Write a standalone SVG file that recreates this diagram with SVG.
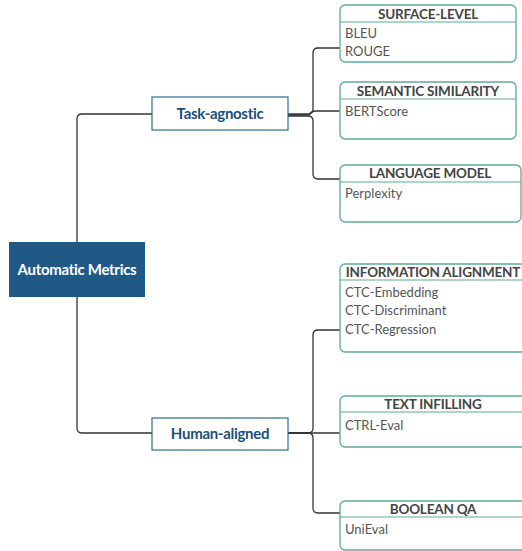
<svg xmlns="http://www.w3.org/2000/svg" width="522" height="551" viewBox="0 0 522 551">
<style>
text{font-family:Lato,"Open Sans","Liberation Sans",sans-serif}
.conn{fill:none;stroke:#333;stroke-width:1.3}
.leaf{fill:#fff;stroke:#5fa99a;stroke-width:1.3}
.div{stroke:#5fa99a;stroke-width:1.2}
.hdr{font-size:13.5px;font-weight:bold;fill:#444;text-anchor:middle;letter-spacing:-0.2px}
.item{font-size:13px;fill:#555}
.mid{fill:#fff;stroke:#2f6b8f;stroke-width:1.2}
.midt{font-size:15px;font-weight:bold;fill:#1b4f7a;text-anchor:middle;letter-spacing:-0.3px}
</style>
<rect width="522" height="551" fill="#fff"/>
<g id="connectors">
<path class="conn" d="M77,242 V119 Q77,114 82,114 H152"/>
<path class="conn" d="M77,297 V428 Q77,433 82,433 H152"/>
<path class="conn" d="M288,114 H308 Q313,114 313,109 V53 Q313,48 318,48 H340"/>
<path class="conn" d="M288,115 H309 Q311,111 316,111 H340"/>
<path class="conn" d="M288,116 H308 Q313,116 313,121 V174 Q313,179 318,179 H340"/>
<path class="conn" d="M288,433 H308 Q313,433 313,428 V335 Q313,330 318,330 H340"/>
<path class="conn" d="M288,433 H340"/>
<path class="conn" d="M288,433 H308 Q313,433 313,438 V508 Q313,513 318,513 H340"/>
</g>
<g id="root">
<rect x="9" y="242" width="136" height="55" fill="#1f5a87"/>
<text x="77" y="275" font-size="15" font-weight="bold" fill="#fff" text-anchor="middle" letter-spacing="-0.3">Automatic Metrics</text>
</g>
<g id="task-agnostic">
<rect class="mid" x="152" y="97" width="136" height="33"/>
<text class="midt" x="220" y="119">Task-agnostic</text>
</g>
<g id="human-aligned">
<rect class="mid" x="152" y="418" width="136" height="32"/>
<text class="midt" x="220" y="439">Human-aligned</text>
</g>
<g id="surface-level">
<rect class="leaf" x="340" y="5" width="176" height="57" rx="5"/>
<line class="div" x1="340" y1="22" x2="516" y2="22"/>
<text class="hdr" x="428" y="19">SURFACE-LEVEL</text>
<text class="item" x="345" y="38">BLEU</text>
<text class="item" x="345" y="56">ROUGE</text>
</g>
<g id="semantic-similarity">
<rect class="leaf" x="340" y="82" width="176" height="57" rx="5"/>
<line class="div" x1="340" y1="99" x2="516" y2="99"/>
<text class="hdr" x="428" y="96">SEMANTIC SIMILARITY</text>
<text class="item" x="345" y="116">BERTScore</text>
</g>
<g id="language-model">
<rect class="leaf" x="340" y="165" width="181" height="57" rx="5"/>
<line class="div" x1="340" y1="182" x2="521" y2="182"/>
<text class="hdr" x="430" y="178">LANGUAGE MODEL</text>
<text class="item" x="345" y="198">Perplexity</text>
</g>
<g id="information-alignment">
<rect class="leaf" x="340" y="264" width="186" height="88" rx="5"/>
<line class="div" x1="340" y1="280" x2="526" y2="280"/>
<text class="hdr" x="433" y="277">INFORMATION ALIGNMENT</text>
<text class="item" x="345" y="297">CTC-Embedding</text>
<text class="item" x="345" y="315">CTC-Discriminant</text>
<text class="item" x="345" y="334">CTC-Regression</text>
</g>
<g id="text-infilling">
<rect class="leaf" x="340" y="396" width="186" height="51" rx="5"/>
<line class="div" x1="340" y1="412" x2="526" y2="412"/>
<text class="hdr" x="433" y="409">TEXT INFILLING</text>
<text class="item" x="345" y="430">CTRL-Eval</text>
</g>
<g id="boolean-qa">
<rect class="leaf" x="340" y="501" width="186" height="49" rx="5"/>
<line class="div" x1="340" y1="517" x2="526" y2="517"/>
<text class="hdr" x="433" y="514">BOOLEAN QA</text>
<text class="item" x="345" y="534">UniEval</text>
</g>
</svg>
